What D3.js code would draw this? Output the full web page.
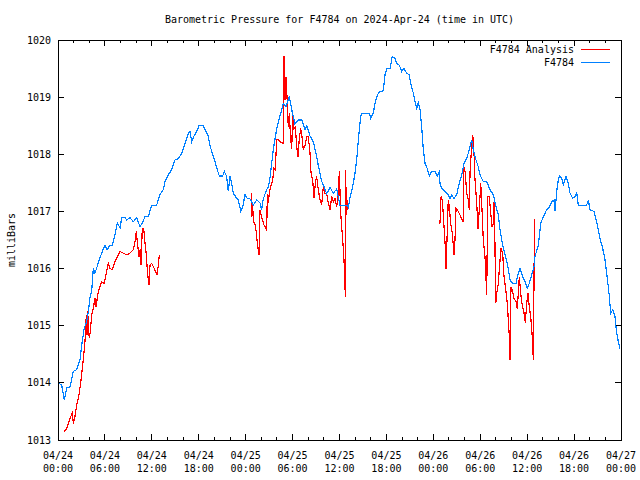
<!DOCTYPE html>
<html>
<head>
<meta charset="utf-8">
<script src="https://cdn.jsdelivr.net/npm/d3@7"></script>
<style>
  body { margin: 0; background: #fff; }
  text { font-family: "DejaVu Sans Mono", "Liberation Mono", monospace; font-size: 10px; fill: #000; }
</style>
</head>
<body>
<div class="display"></div>
<script>
// hours since 2024-04-24 00:00 UTC
const stationHours = [
  0.00, 0.47, 0.81, 1.11, 1.53, 1.96, 2.39, 2.81, 3.03, 3.36,
  3.67, 3.88, 4.09, 4.31, 4.51, 4.73, 4.95, 5.37, 5.67, 6.01,
  6.30, 6.65, 6.94, 7.29, 7.58, 7.93, 8.15, 8.57, 8.79, 9.21,
  9.63, 10.06, 10.49, 10.78, 11.13, 11.55, 11.98, 12.62, 13.04, 13.47,
  13.68, 14.11, 14.54, 14.96, 15.39, 15.82, 16.24, 16.66, 16.88, 17.10,
  17.43, 17.74, 18.03, 18.58, 18.89, 19.22, 19.44, 19.66, 20.08, 20.37,
  20.63, 21.06, 21.27, 21.57, 21.78, 22.00, 22.21, 22.42, 22.85, 23.06,
  23.37, 23.62, 23.92, 24.21, 24.55, 24.98, 25.41, 25.83, 26.03, 26.26,
  26.67, 26.90, 27.11, 27.53, 27.97, 28.39, 28.81, 29.16, 29.58, 29.89,
  30.31, 30.73, 31.17, 31.59, 31.81, 32.23, 32.65, 33.08, 33.29, 33.72,
  34.02, 34.36, 34.79, 35.21, 35.64, 35.85, 36.06, 36.92, 37.13, 37.34,
  37.77, 37.98, 38.20, 38.41, 38.71, 38.84, 39.81, 39.99, 40.32, 40.54,
  40.84, 41.18, 41.60, 41.82, 42.04, 42.46, 42.75, 43.10, 43.32, 43.65,
  43.96, 44.25, 44.59, 44.89, 45.11, 45.44, 45.66, 45.87, 46.08, 46.30,
  46.51, 46.72, 46.94, 47.23, 47.49, 47.79, 48.21, 48.51, 48.76, 48.85,
  49.07, 49.49, 49.91, 50.13, 50.35, 50.64, 50.99, 51.19, 51.63, 51.92,
  52.27, 52.60, 52.91, 53.11, 53.46, 53.75, 53.97, 54.39, 54.83, 55.25,
  55.67, 56.02, 56.31, 56.53, 56.87, 57.17, 57.46, 57.81, 58.15, 58.57,
  58.87, 59.09, 59.43, 59.72, 60.02, 60.27, 60.58, 60.88, 61.00, 61.43,
  61.73, 62.07, 62.50, 62.83, 63.14, 63.43, 63.56, 63.69, 63.86, 64.11,
  64.42, 64.62, 64.97, 65.26, 65.48, 65.82, 66.12, 66.34, 66.54, 67.61,
  67.82, 68.04, 68.55, 68.89, 69.32, 69.66, 69.96, 70.25, 70.51, 70.68,
  70.94, 71.23, 71.45, 71.66, 71.87
];
const stationValues = [
  1014.00, 1013.96, 1013.70, 1013.91, 1013.93, 1014.20, 1014.23, 1014.40, 1014.66, 1014.96,
  1015.07, 1015.25, 1015.49, 1015.60, 1016.00, 1015.92, 1016.01, 1016.19, 1016.30, 1016.41,
  1016.33, 1016.41, 1016.41, 1016.59, 1016.80, 1016.71, 1016.89, 1016.89, 1016.85, 1016.89,
  1016.82, 1016.89, 1016.73, 1016.80, 1016.91, 1016.91, 1017.11, 1017.11, 1017.30, 1017.38,
  1017.52, 1017.64, 1017.73, 1017.90, 1017.92, 1018.02, 1018.19, 1018.36, 1018.40, 1018.22,
  1018.33, 1018.40, 1018.50, 1018.50, 1018.41, 1018.32, 1018.15, 1018.05, 1017.87, 1017.73,
  1017.62, 1017.62, 1017.70, 1017.61, 1017.35, 1017.61, 1017.49, 1017.32, 1017.23, 1017.20,
  1017.01, 1017.08, 1017.29, 1017.23, 1017.22, 1017.11, 1017.20, 1017.15, 1017.03, 1017.22,
  1017.38, 1017.43, 1017.59, 1018.08, 1018.45, 1018.67, 1018.89, 1018.83, 1019.01, 1018.78,
  1018.53, 1018.60, 1018.60, 1018.43, 1018.50, 1018.32, 1018.22, 1017.96, 1017.80, 1017.53,
  1017.43, 1017.31, 1017.42, 1017.32, 1017.39, 1017.25, 1017.11, 1017.11, 1017.07, 1017.24,
  1017.49, 1017.67, 1017.90, 1018.25, 1018.66, 1018.72, 1018.72, 1018.63, 1018.72, 1018.89,
  1019.04, 1019.10, 1019.11, 1019.39, 1019.50, 1019.50, 1019.71, 1019.68, 1019.59, 1019.56,
  1019.45, 1019.50, 1019.42, 1019.39, 1019.24, 1019.07, 1018.92, 1018.80, 1018.90, 1018.78,
  1018.48, 1018.08, 1017.84, 1017.75, 1017.62, 1017.70, 1017.70, 1017.62, 1017.69, 1017.49,
  1017.40, 1017.35, 1017.29, 1017.23, 1017.29, 1017.23, 1017.29, 1017.43, 1017.64, 1017.84,
  1017.93, 1018.08, 1018.25, 1018.08, 1017.90, 1017.78, 1017.64, 1017.52, 1017.52, 1017.38,
  1017.29, 1017.08, 1016.94, 1016.68, 1016.41, 1016.24, 1016.09, 1015.80, 1015.74, 1015.74,
  1015.92, 1016.00, 1015.85, 1015.77, 1015.66, 1015.74, 1015.89, 1016.03, 1016.21, 1016.41,
  1016.79, 1016.91, 1017.03, 1017.08, 1017.17, 1017.20, 1017.00, 1017.20, 1017.46, 1017.62,
  1017.58, 1017.46, 1017.61, 1017.49, 1017.32, 1017.23, 1017.26, 1017.32, 1017.11, 1017.11,
  1017.20, 1017.03, 1017.00, 1016.82, 1016.53, 1016.35, 1016.15, 1015.83, 1015.51, 1015.22,
  1015.28, 1015.16, 1014.87, 1014.72, 1014.60
];

// analysis series, null = no data (gap)
const analysisHours = [
  0.81, 1.11, 1.53, 1.83, 1.96, 2.17, 2.39, 2.69, 2.94, 3.11,
  3.29, 3.45, 3.62, 3.71, 3.80, 3.88, 4.00, 4.13, 4.31, 4.51,
  4.73, 4.86, 5.08, 5.28, 5.59, 5.92, 6.23, 6.43, 6.65, 6.94,
  7.29, 7.63, 7.93, 8.35, 8.79, 9.21, 9.63, 9.85, 10.01, 10.19,
  10.36, 10.53, 10.61, 10.78, 10.96, 11.13, 11.29, 11.47, 11.64, 11.77,
  11.98, 12.32, 12.66, 12.83, 12.96,
  18.00,
  24.72, 24.77, 24.90, 24.98, 25.19, 25.36, 25.49, 25.71, 25.83, 26.05,
  26.35, 26.69, 26.77, 26.90, 27.02, 27.20, 27.46, 27.62, 27.79, 27.97,
  28.17, 28.39, 28.81, 28.90, 29.03, 29.16, 29.33, 29.45, 29.58, 29.76,
  29.89, 30.02, 30.18, 30.35, 30.53, 30.69, 30.86, 31.04, 31.20, 31.37,
  31.59, 31.81, 32.01, 32.23, 32.36, 32.57, 32.74, 32.91, 33.08, 33.29,
  33.51, 33.72, 33.93, 34.15, 34.36, 34.57, 34.79, 35.00, 35.21, 35.43,
  35.64, 35.85, 35.98, 36.15, 36.36, 36.54, 36.67, 36.74, 36.79, 36.87,
  36.96, 37.05,
  42.00,
  48.76, 48.85, 48.98, 49.15, 49.37, 49.53, 49.62, 49.79, 49.91, 50.04,
  50.22, 50.43, 50.64, 50.77, 50.90, 51.19, 51.50, 51.83, 51.92, 52.09,
  52.27, 52.47, 52.60, 52.69, 52.91, 53.04, 53.20, 53.33, 53.55, 53.71,
  53.88, 54.06, 54.19, 54.39, 54.61, 54.83, 54.95, 55.16, 55.34, 55.50,
  55.67, 55.80, 55.98, 56.11, 56.31, 56.53, 56.65, 56.87, 57.04, 57.26,
  57.46, 57.59, 57.72, 57.81, 57.93, 58.10, 58.32, 58.57, 58.74, 58.92,
  59.00, 59.17, 59.34, 59.51, 59.69, 59.76, 59.94, 60.11, 60.27, 60.45,
  60.62, 60.71, 60.78, 60.88, 60.92, 60.96
];
const analysisValues = [
  1013.15, 1013.20, 1013.38, 1013.47, 1013.29, 1013.41, 1013.61, 1013.79, 1014.05, 1014.25,
  1014.49, 1014.72, 1015.19, 1014.84, 1015.25, 1015.01, 1014.78, 1014.90, 1015.19, 1015.30,
  1015.48, 1015.33, 1015.54, 1015.65, 1015.77, 1015.74, 1015.95, 1016.09, 1016.00, 1015.98,
  1016.12, 1016.21, 1016.30, 1016.27, 1016.24, 1016.27, 1016.33, 1016.47, 1016.65, 1016.41,
  1016.21, 1016.35, 1016.06, 1016.70, 1016.70, 1016.44, 1016.24, 1015.89, 1015.71, 1016.06,
  1016.09, 1016.00, 1015.89, 1016.06, 1016.24,
  null,
  1017.32, 1016.91, 1017.11, 1016.82, 1016.78, 1016.64, 1016.44, 1016.24, 1017.03, 1016.89,
  1016.76, 1016.68, 1017.31, 1017.14, 1017.32, 1017.43, 1017.55, 1017.75, 1017.73, 1018.26,
  1018.25, 1018.22, 1018.19, 1019.72, 1018.95, 1019.36, 1018.89, 1018.48, 1018.72, 1018.25,
  1018.10, 1018.69, 1018.45, 1018.48, 1018.13, 1017.96, 1018.28, 1018.45, 1018.31, 1018.08,
  1018.16, 1018.31, 1018.31, 1018.02, 1017.67, 1017.55, 1017.23, 1017.49, 1017.61, 1017.38,
  1017.20, 1017.11, 1017.43, 1017.32, 1017.32, 1017.14, 1017.03, 1017.26, 1017.17, 1017.23,
  1017.08, 1017.32, 1017.70, 1016.97, 1016.59, 1016.24, 1015.89, 1015.50, 1017.73, 1016.94,
  1017.20, 1017.03,
  null,
  1016.85, 1016.79, 1017.26, 1017.20, 1016.73, 1016.38, 1016.00, 1016.68, 1017.20, 1017.08,
  1016.79, 1016.62, 1016.24, 1016.50, 1017.05, 1017.00, 1016.91, 1016.82, 1017.78, 1017.67,
  1017.32, 1017.20, 1017.03, 1017.67, 1018.16, 1018.34, 1018.02, 1017.55, 1017.14, 1016.70,
  1017.03, 1017.49, 1017.14, 1016.50, 1016.21, 1015.54, 1017.26, 1017.26, 1016.97, 1016.73,
  1016.79, 1017.26, 1015.39, 1015.57, 1015.74, 1016.15, 1016.35, 1016.27, 1015.86, 1015.63,
  1015.39, 1015.10, 1014.81, 1014.40, 1015.68, 1015.63, 1015.48, 1015.42, 1015.30, 1015.68,
  1015.86, 1015.57, 1015.39, 1015.28, 1015.16, 1015.04, 1015.39, 1015.57, 1015.33, 1015.16,
  1014.87, 1014.70, 1014.40, 1015.86, 1016.86, 1015.92
];

const tickHours = [0, 6, 12, 18, 24, 30, 36, 42, 48, 54, 60, 66, 72];
const tickDays = ['04/24', '04/24', '04/24', '04/24', '04/25', '04/25', '04/25', '04/25', '04/26', '04/26', '04/26', '04/26', '04/27'];
const tickTimes = ['00:00', '06:00', '12:00', '18:00', '00:00', '06:00', '12:00', '18:00', '00:00', '06:00', '12:00', '18:00', '00:00'];
const minorHours = d3.range(0, 73, 2).filter(h => h % 6 != 0);
const yTicks = [1013, 1014, 1015, 1016, 1017, 1018, 1019, 1020];

const seriesNames = ['F4784 Analysis', 'F4784'];
const seriesColors = ['#ff0000', '#0080ff'];

const config = {
  width: 640,
  height: 480,
  left: 58,
  right: 621,
  top: 40,
  bottom: 440,
  title: 'Barometric Pressure for F4784 on 2024-Apr-24 (time in UTC)',
  yDisplay: 'milliBars'
};

const svg = d3.select('.display')
  .append('svg')
  .attr('width', config.width)
  .attr('height', config.height);

const x = d3.scaleLinear().domain([0, 72]).range([config.left, config.right]);
const y = d3.scaleLinear().domain([1013, 1020]).range([config.bottom, config.top]);

// ticks, all pointing inward like gnuplot
const tickGroup = svg.append('g')
  .attr('stroke', '#000')
  .attr('stroke-width', 1)
  .attr('shape-rendering', 'crispEdges');

tickHours.forEach(h => {
  tickGroup.append('line').attr('x1', x(h)).attr('x2', x(h)).attr('y1', config.bottom).attr('y2', config.bottom - 6);
  tickGroup.append('line').attr('x1', x(h)).attr('x2', x(h)).attr('y1', config.top).attr('y2', config.top + 6);
});
minorHours.forEach(h => {
  tickGroup.append('line').attr('x1', x(h)).attr('x2', x(h)).attr('y1', config.bottom).attr('y2', config.bottom - 3);
  tickGroup.append('line').attr('x1', x(h)).attr('x2', x(h)).attr('y1', config.top).attr('y2', config.top + 3);
});
yTicks.forEach(v => {
  tickGroup.append('line').attr('x1', config.left).attr('x2', config.left + 6).attr('y1', y(v)).attr('y2', y(v));
  tickGroup.append('line').attr('x1', config.right).attr('x2', config.right - 6).attr('y1', y(v)).attr('y2', y(v));
});

// tick labels
svg.append('g')
  .selectAll('text')
  .data(yTicks)
  .enter()
  .append('text')
  .attr('x', config.left - 7)
  .attr('y', d => y(d) + 3.5)
  .attr('text-anchor', 'end')
  .text(d => d);

const xLabels = svg.append('g')
  .selectAll('text')
  .data(tickHours)
  .enter()
  .append('text')
  .attr('text-anchor', 'middle');
xLabels.append('tspan')
  .attr('x', d => x(d))
  .attr('y', config.bottom + 19)
  .text((d, i) => tickDays[i]);
xLabels.append('tspan')
  .attr('x', d => x(d))
  .attr('y', config.bottom + 32)
  .text((d, i) => tickTimes[i]);

// lines
const line = d3.line()
  .defined(d => d[1] != null)
  .x(d => x(d[0]))
  .y(d => y(d[1]));

const plotArea = svg.append('g')
  .attr('shape-rendering', 'crispEdges');

plotArea.append('path')
  .datum(d3.zip(analysisHours, analysisValues))
  .attr('fill', 'none')
  .attr('stroke', seriesColors[0])
  .attr('stroke-width', 1.2)
  .attr('d', line);

plotArea.append('path')
  .datum(d3.zip(stationHours, stationValues))
  .attr('fill', 'none')
  .attr('stroke', seriesColors[1])
  .attr('stroke-width', 1.2)
  .attr('d', line);

// frame
svg.append('rect')
  .attr('x', config.left)
  .attr('y', config.top)
  .attr('width', config.right - config.left)
  .attr('height', config.bottom - config.top)
  .attr('fill', 'none')
  .attr('stroke', '#000')
  .attr('shape-rendering', 'crispEdges');

// legend
seriesNames.forEach((name, i) => {
  const ly = 49.5 + i * 13;
  svg.append('text')
    .attr('x', 574)
    .attr('y', ly + 3.5)
    .attr('text-anchor', 'end')
    .text(name);
  svg.append('line')
    .attr('x1', 581)
    .attr('x2', 610)
    .attr('y1', ly)
    .attr('y2', ly)
    .attr('stroke', seriesColors[i])
    .attr('shape-rendering', 'crispEdges')
    .attr('stroke-width', 1);
});

// title and axis label
svg.append('text')
  .attr('x', (config.left + config.right) / 2)
  .attr('y', 23)
  .attr('text-anchor', 'middle')
  .text(config.title);

svg.append('text')
  .attr('transform', `translate(15, ${(config.top + config.bottom) / 2}) rotate(-90)`)
  .attr('text-anchor', 'middle')
  .text(config.yDisplay);
</script>
</body>
</html>
